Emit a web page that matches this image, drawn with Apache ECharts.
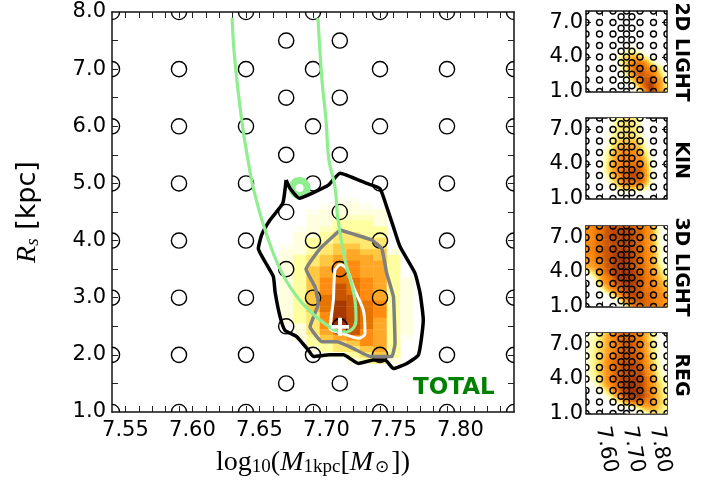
<!DOCTYPE html>
<html><head><meta charset="utf-8">
<style>html,body{margin:0;padding:0;background:#fff}#c{width:718px;height:483px}</style>
<script src="https://cdn.jsdelivr.net/npm/echarts@6/dist/echarts.min.js"></script>
</head><body><div id="c"></div>
<script>
// ---- circles (model grid)
const massCoarse = [7.54,7.59,7.64,7.69,7.74,7.79,7.84];
const rsCoarse = [1,2,3,4,5,6,7,8];
const massFine = [7.67,7.71];
const rsFine = [1.5,2.5,3.5,4.5,5.5,6.5,7.5];
// ---- main heat map, read cell by cell (level 0..10)
const mainMass = [7.67,7.68,7.69,7.70,7.71,7.72,7.73,7.74,7.75,7.76];
const mainRs = [4.7,4.6,4.5,4.4,4.3,4.2,4.1,4.0,3.9,3.8,3.7,3.6,3.5,3.4,3.3,3.2,3.1,3.0,2.9,2.8,2.7,2.6,2.5,2.4,2.3,2.2,2.1,2.0,1.9];
const mainHeat = [
[0,0,0,0,0.5,0.5,0,0,0,0],
[0,0,0,0.5,1,1,0.5,0,0,0],
[0,0,0.5,1,1,1,1,1,0,0],
[0,0,1,1,1.5,1.5,1.5,1,0,0],
[0,0,1,1,2,2,2,1,0,0],
[0,0.5,1,1.5,2,2,2,2,0,0],
[0,1,1,2,3,3,2,2,0,0],
[0,1,2,2,3,3,3,3,0,0],
[0.5,1,2,3,4,4,3,3,0,0],
[1,1,2,3,4,5,4,4,1,0],
[1,2,3,4,5,5,5,4,2,0],
[1,2,3,4,6,6,5,5,2,0],
[1,2,4,5,7,6,5,5,2,0],
[1,2,4,5,7,6,5,5,2,0],
[1,2,4,6,7,7,6,5,2,1],
[1,2,4,6,8,7,6,5,2,1],
[1,2,4,6,8,7,6,5,2,1],
[1,2,4,7,8,8,6,5,2,1],
[1,2,4,7,9,8,7,6,2,1],
[1,2,4,7,9,8,7,6,2,1],
[1,2,3,6,9,8,7,6,2,1],
[1,2,3,6,10,8,7,5,2,1],
[0,1,3,6,10,8,7,5,2,1],
[0,1,3,5,7,8,6,5,2,1],
[0,1,2,4,5,6,6,5,2,0.5],
[0,0,2,2,3,4,6,5,2,0],
[0,0,1,2,3,3,4,5,2,0],
[0,0,0,1,1,2,3,4,2,0],
[0,0,0,0,0,1,2,3,1,0]
];
// ---- contours and curves (mass, Rs)
const contourBlack = [[7.6699,5.06],[7.6674,4.65],[7.6579,4.36],[7.6517,4.10],[7.6492,3.86],[7.6542,3.63],[7.6604,3.37],[7.6617,3.10],[7.6654,2.67],[7.6691,2.43],[7.6778,2.32],[7.6866,2.08],[7.6903,1.97],[7.7027,2.00],[7.7127,2.00],[7.7239,1.85],[7.7351,1.91],[7.7438,1.91],[7.7501,1.76],[7.7600,1.85],[7.7687,2.00],[7.7723,2.61],[7.7699,3.08],[7.7661,3.43],[7.7550,3.89],[7.7500,4.24],[7.7450,4.59],[7.7400,4.91],[7.7301,5.00],[7.7102,5.18],[7.7015,4.97],[7.6903,4.84],[7.6798,4.74],[7.6729,4.91],[7.6699,5.06]];
const contourGray = [[7.7102,4.185],[7.7338,4.01],[7.7413,3.86],[7.7450,3.43],[7.7500,3.02],[7.7512,2.20],[7.7488,1.97],[7.7326,1.97],[7.7176,2.14],[7.7077,2.23],[7.6965,2.23],[7.6878,2.49],[7.6940,2.90],[7.6915,3.19],[7.6848,3.50],[7.6953,3.86],[7.7102,4.185]];
const contourWhite = [[7.7102,3.59],[7.7151,3.51],[7.7201,3.19],[7.7276,2.78],[7.7288,2.37],[7.7238,2.29],[7.7127,2.37],[7.7027,2.46],[7.7052,2.96],[7.7064,3.48],[7.7102,3.59]];
const curveGreen = [[7.6296,7.90],[7.6310,7.34],[7.6340,6.64],[7.6378,5.94],[7.6415,5.41],[7.6452,4.94],[7.6542,4.19],[7.6669,3.43],[7.6818,2.91],[7.7004,2.52],[7.7124,2.40],[7.7176,2.42],[7.7221,2.61],[7.7213,2.96],[7.7139,3.66],[7.7087,4.36],[7.7064,4.94],[7.7019,5.41],[7.6997,6.11],[7.6967,6.81],[7.6937,7.90]];
const markerGreen = [[7.680,4.92]];
const markerBest = [[7.7102,2.49]];
// ---- side panels: node values read at these positions
const panelMass = [7.54,7.56,7.58,7.60,7.62,7.64,7.66,7.68,7.70,7.72,7.74,7.76,7.78,7.80,7.82,7.84];
const panelRs = [8,7.5,7,6.5,6,5.5,5,4.5,4,3.5,3,2.5,2,1.5,1];
const heat2D = [
[0,0,0,0,0,0,0,0,0,0,0,0,0,0,0,0],
[0,0,0,0,0,0,0,0,0,0,0,0,0,0,0,0],
[0,0,0,0,0,0,0,0,0,0,0,0,0,0,0,0],
[0,0,0,0,0,0,0,0,0,0,0,0,0,0,0,0],
[0,0,0,0,0,0,0,0,0,0,0,0,0,0,0,0],
[0,0,0,0,0,0,0,0,0,0,0,0,0,0,0,0],
[0,0,0,0,0,0,0,0,0.5,0.5,0,0,0,0,0,0],
[0,0,0,0,0,0,0,1,2,2,1,0,0,0,0,0],
[0,0,0,0,0,0,1.5,3,4,5,4,2,0.5,0,0,0],
[0,0,0,0,0,0,1,3,5,7,7,6,3,1,0,0],
[0,0,0,0,0,0,0.5,2,5,7.5,7.5,7,6,5,2,0],
[0,0,0,0,0,0,0,1,4,7,8,7.5,7,6,3,0.5],
[0,0,0,0,0,0,0,0,2,5,7,8,8,6.5,5,1],
[0,0,0,0,0,0,0,0,0,2,5,8,9,7,5,2],
[0,0,0,0,0,0,0,0,0,0,2,6,9,7,5,3]
];
const heatKin = [
[0,0,0,0,0,1.5,2,3,3,3,1.5,0,0,0,0,0],
[0,0,0,0,0,1.5,2.5,3,3,3,1.5,0,0,0,0,0],
[0,0,0,0,0,1.5,3,3,3,3,2,0,0,0,0,0],
[0,0,0,0,0.5,2,3,3,3.5,3,2,0.5,0,0,0,0],
[0,0,0,0,1,2.5,3.5,4,4,4,3,1,0,0,0,0],
[0,0,0,0,1,3,4.5,5,5,5,4,1.5,0,0,0,0],
[0,0,0,0.5,2,4,5.5,6,6,6,5,3,0.5,0,0,0],
[0,0,0,0.5,2.5,4.5,6,6.5,6.5,6.5,6,4,1,0,0,0],
[0,0,0,0.5,3,5,6,6.5,7,7,7,5,1.5,0,0,0],
[0,0,0,0.5,3,5,6.5,7,7.5,8,7.5,5.5,2,0,0,0],
[0,0,0,0,2,4,6,7,8,8.5,8,6,2,0,0,0],
[0,0,0,0,1,3,5,6.5,7.5,8,7.5,6,1.5,0,0,0],
[0,0,0,0,0,1,3,4.5,5,5,5,3,0.5,0,0,0],
[0,0,0,0,0,0,0,0,0,0,0,0,0,0,0,0],
[0,0,0,0,0,0,0,0,0,0,0,0,0,0,0,0]
];
const heat3D = [
[6,6,7,7,8,8,8,8,8,7.5,7,6.5,5.5,3,0.5,0],
[6,6,7,7,8,8.5,8.5,8.5,8.5,8,7.5,6.5,5.5,3,0.5,0],
[6,6,7,7.5,8,8.5,8.5,8.5,8.5,8,7.5,6.5,5.5,3,0.5,0],
[6,6.5,7,7.5,8,8.5,8.5,8.5,8.5,8,7.5,6.5,5.5,3.5,0.5,0],
[6,6.5,7,7.5,8,8.5,8.5,8.5,8.5,8,7.5,6.5,5.5,3.5,1,0],
[6,6,7,7.5,8,8.5,9,9,8.5,8,7.5,6.5,5.5,4,1,0],
[5.5,6,6.5,7,8,8.5,9,9,8.5,8,7.5,6.5,5.5,4,1,0.5],
[5,5.5,6,7,8,8.5,9,9,8.5,8,7.5,7,5.5,4.5,2,0.5],
[1,3,5,6.5,7.5,8.5,9,9,9,8.5,7.5,7,6,5,3,1],
[0,0.5,3,5.5,6.5,7.5,9,9,9,8.5,8,7,6.5,5.5,4,2],
[0,0,1.5,5,6,7,8,8.5,9,8.5,8,7,6.5,6,5,3.5],
[0,0,0,1.5,5,6.5,7,8,8.5,8.5,8,7,7,6.5,5.5,4.5],
[0,0,0,0,0.5,3,6,7,8,8.5,8,7.5,7,6.5,6,5],
[0,0,0,0,0,0,1,5,7,8,8,7.5,7,6.5,6,5.5],
[0,0,0,0,0,0,0,0.5,4,7,7,7.5,7,6.5,6,5.5]
];
const heatReg = [
[0.5,1,2,3,4.5,6,7,7.5,7.5,7,6.5,5,3,1.5,0,0],
[1,1.5,2.5,3.5,5,6,7,7.5,7.5,7,6.5,5,3,1.5,0,0],
[1,1.5,2.5,3.5,5,6,7,7.5,8,7.5,7,5.5,3.5,1.5,0.5,0],
[1,2,3,4,5,6.5,7,8,8,7.5,7,5.5,3.5,2,0.5,0],
[1,2,3,4,5.5,6.5,7.5,8,8,8,7.5,6,4,2,0.5,0],
[1,2,3,4,6,7,7.5,8,8,8,7.5,6,4.5,2.5,1,0],
[1,2,3,4.5,6,7,7.5,8,8.5,8.5,8,6.5,5,3,1,0.5],
[1,2,3,4.5,6,7,8,8,8.5,8.5,8.5,7,5.5,3.5,1.5,0.5],
[0.5,1.5,2.5,4,6,7,8,8.5,8.5,9,8.5,7.5,6,4,2,1],
[0,0.5,1.5,3.5,5.5,6.5,7.5,8.5,9,9,8.5,7.5,6,4.5,3,1],
[0,0,0.5,1.5,3.5,6,7,8.5,9,9.5,9,7.5,6.5,5,3,2],
[0,0,0,0,1.5,3.5,6,8,9,9.5,9,8,6.5,5,3.5,2],
[0,0,0,0,0,0.5,2,4,6,7,7,6.5,6,5,3.5,2.5],
[0,0,0,0,0,0,0,0,0.5,2,3,5,5,4.5,3,2],
[0,0,0,0,0,0,0,0,0,0,0.5,1,3,3,2.5,1.5]
];
const panelNames = ['2D LIGHT','KIN','3D LIGHT','REG'];
const panelHeats = [heat2D,heatKin,heat3D,heatReg];
// ---- ticks
const xLabelsMain = [7.55,7.60,7.65,7.70,7.75,7.80];
const xTicksMain = [7.55,7.56,7.57,7.58,7.59,7.60,7.61,7.62,7.63,7.64,7.65,7.66,7.67,7.68,7.69,7.70,7.71,7.72,7.73,7.74,7.75,7.76,7.77,7.78,7.79,7.80,7.81,7.82,7.83];
const yLabelsMain = [1,2,3,4,5,6,7,8];
const yTicksMain = [1.5,2,2.5,3,3.5,4,4.5,5,5.5,6,6.5,7,7.5];
const xTicksPanel = [7.60,7.70,7.80];
const yTicksPanel = [1,4,7];
const levelColors = ['#ffffff','#ffffe0','#ffffa0','#ffe870','#ffc840','#ffa828','#ff8c10','#e87400','#c85400','#a83800','#902800'];

const X0=7.54,X1=7.84,Y0=1,Y1=8;
const rgb = levelColors.map(c=>[1,3,5].map(i=>parseInt(c.substr(i,2),16)));
function levelColor(v){
  const t=Math.max(0,Math.min(10,v)),i=Math.min(9,Math.floor(t)),f=t-i;
  const a=rgb[i],b=rgb[i+1];
  return 'rgb('+a.map((q,k)=>Math.round(q+(b[k]-q)*f)).join(',')+')';
}
const circles=[];
massCoarse.forEach(m=>rsCoarse.forEach(r=>circles.push([m,r])));
massFine.forEach(m=>rsFine.forEach(r=>circles.push([m,r])));

const panelTops=[11,118,226,333];
const grids=[{left:112,top:12,width:402,height:400}];
panelTops.forEach(t=>grids.push({left:586,top:t,width:81,height:80.5}));
const axisLine={show:true,onZero:false,lineStyle:{color:'#111',width:1.5}};
const font='"DejaVu Sans"';
const xAxes=[],yAxes=[];
function addAxes(g,xTicks,xLabels,yTicks,yLabels,showX,tickLen,extraX,extraY){
  const lab=(vals,fmt,extra)=>Object.assign({customValues:vals,formatter:fmt,color:'#000',fontFamily:font,fontSize:21,showMinLabel:true,showMaxLabel:true},extra);
  xAxes.push(Object.assign({gridIndex:g,type:'value',position:'bottom',min:X0,max:X1,splitLine:{show:false},axisLine,
    axisTick:{show:true,inside:true,length:tickLen,customValues:xTicks,lineStyle:{color:'#222',width:1}},
    axisLabel:showX?lab(xLabels,v=>(+v).toFixed(2),extraX):{show:false}},showX&&g===0?{
      name:'{a|log}{s|10}{a|(}{i|M}{s|1kpc}{a|[}{i|M}{t|⊙}{a|])}',nameLocation:'middle',nameGap:36,
      nameTextStyle:{rich:{a:{fontFamily:'"Liberation Serif"',fontSize:28,color:'#000'},i:{fontFamily:'"Liberation Serif"',fontStyle:'italic',fontSize:28,color:'#000'},s:{fontFamily:'"Liberation Serif"',fontSize:19,color:'#000',padding:[10,0,0,0]},t:{fontFamily:'"DejaVu Sans"',fontSize:17,color:'#000',padding:[10,2,0,2]}}}
    }:{}));
  xAxes.push({gridIndex:g,type:'value',position:'top',min:X0,max:X1,splitLine:{show:false},axisLine,
    axisTick:{show:true,inside:true,length:tickLen,customValues:xTicks,lineStyle:{color:'#222',width:1}},axisLabel:{show:false}});
  yAxes.push(Object.assign({gridIndex:g,type:'value',position:'left',min:Y0,max:Y1,splitLine:{show:false},axisLine,
    axisTick:{show:true,inside:true,length:tickLen,customValues:yTicks,lineStyle:{color:'#222',width:1}},
    axisLabel:lab(yLabels,v=>(+v).toFixed(1),extraY)},g===0?{
      name:'{i|R}{s|s}{a| [kpc]}',nameLocation:'middle',nameGap:70,nameRotate:90,
      nameTextStyle:{rich:{i:{fontFamily:'"Liberation Serif"',fontStyle:'italic',fontSize:28,color:'#000'},s:{fontFamily:'"Liberation Serif"',fontStyle:'italic',fontSize:19,color:'#000',padding:[10,0,0,0]},a:{fontFamily:font,fontSize:27,color:'#000'}}}
    }:{}));
  yAxes.push({gridIndex:g,type:'value',position:'right',min:Y0,max:Y1,splitLine:{show:false},axisLine,
    axisTick:{show:true,inside:true,length:tickLen,customValues:yTicks,lineStyle:{color:'#222',width:1}},axisLabel:{show:false}});
}
addAxes(0,xTicksMain,xLabelsMain,yTicksMain,yLabelsMain,true,6,{margin:8},{margin:6});
for(let i=0;i<4;i++) addAxes(i+1,xTicksPanel,xTicksPanel,yTicksPanel,yTicksPanel,i===3,5,{rotate:-80,margin:13,padding:[16,0,0,0]},{margin:3});

const series=[];
const mainCells=[];
mainRs.forEach((r,j)=>mainMass.forEach((m,i)=>{if(mainHeat[j][i]>0)mainCells.push([m,r,mainHeat[j][i]]);}));
series.push({type:'custom',xAxisIndex:0,yAxisIndex:0,clip:true,z:1,silent:true,data:mainCells,encode:{x:0,y:1},
  renderItem(p,api){
    const a=api.coord([api.value(0)-0.005,api.value(1)+0.05]),b=api.coord([api.value(0)+0.005,api.value(1)-0.05]);
    return {type:'rect',shape:{x:a[0],y:a[1],width:b[0]-a[0]+0.4,height:b[1]-a[1]+0.4},style:{fill:levelColor(api.value(2))}};
  }});
panelHeats.forEach((tbl,k)=>{
  const cells=[];
  for(let j=0;j<panelRs.length-1;j++)for(let i=0;i<panelMass.length-1;i++)cells.push([panelMass[i],panelRs[j],tbl[j][i],i,j]);
  series.push({type:'custom',xAxisIndex:2*(k+1),yAxisIndex:2*(k+1),clip:true,z:1,silent:true,data:cells,encode:{x:0,y:1},
    renderItem(p,api){
      const i=api.value(3),j=api.value(4),n=3,kids=[];
      const a=api.coord([panelMass[i],panelRs[j]]),b=api.coord([panelMass[i+1],panelRs[j+1]]);
      const w=(b[0]-a[0])/n,h=(b[1]-a[1])/n;
      for(let u=0;u<n;u++)for(let v=0;v<n;v++){
        const fx=(u+0.5)/n,fy=(v+0.5)/n;
        const val=(tbl[j][i]*(1-fx)+tbl[j][i+1]*fx)*(1-fy)+(tbl[j+1][i]*(1-fx)+tbl[j+1][i+1]*fx)*fy;
        if(val<=0.02)continue;
        kids.push({type:'rect',shape:{x:a[0]+u*w,y:a[1]+v*h,width:w+0.4,height:h+0.4},style:{fill:levelColor(val)}});
      }
      return {type:'group',children:kids};
    }});
});
[0,1,2,3,4].forEach(g=>{
  const r=g===0?7.6:3;
  series.push({type:'custom',xAxisIndex:2*g,yAxisIndex:2*g,clip:true,z:3,silent:true,data:circles,encode:{x:0,y:1},
    renderItem(p,api){
      const c=api.coord([api.value(0),api.value(1)]);
      return {type:'circle',shape:{cx:c[0],cy:c[1],r:r},style:{fill:'none',stroke:'#000',lineWidth:1.4}};
    }});
});
series.push({type:'scatter',xAxisIndex:0,yAxisIndex:0,z:4,silent:true,data:markerGreen,symbol:'circle',symbolSize:15,
  itemStyle:{color:'rgba(0,0,0,0)',borderColor:'#90ee90',borderWidth:7,opacity:1}});
function lineS(d,color,z,smooth,w){return {type:'line',xAxisIndex:0,yAxisIndex:0,data:d,showSymbol:false,symbol:'none',smooth:smooth,z:z,clip:true,silent:true,lineStyle:{color:color,width:w,join:'round'}};}
series.push(lineS(contourBlack,'#000',5,0.15,3.5));
series.push(lineS(contourGray,'#808080',6,0.1,3.5));
series.push(lineS(contourWhite,'#ffffff',7,0.25,3));
series.push(lineS(curveGreen,'#90ee90',8,0.4,3.2));
series.push({type:'scatter',xAxisIndex:0,yAxisIndex:0,z:9,silent:true,data:markerBest,symbol:'path://M-1.1,-5H1.1V-1.1H5V1.1H1.1V5H-1.1V1.1H-5V-1.1H-1.1Z',symbolSize:18,itemStyle:{color:'#fff',opacity:1}});

const graphic=[{type:'text',left:413,top:377,z:20,style:{text:'TOTAL',fill:'#008000',font:'bold 23px "DejaVu Sans"'}}];
const sideCenters=[52,160,267,375];
panelNames.forEach((n,i)=>graphic.push({type:'text',x:681,y:sideCenters[i],rotation:-Math.PI/2,z:20,
  style:{text:n,fill:'#000',font:'bold 19px "DejaVu Sans"',align:'center',verticalAlign:'middle'}}));

const chart=echarts.init(document.getElementById('c'),null,{renderer:'canvas'});
chart.setOption({animation:false,backgroundColor:'#fff',grid:grids,xAxis:xAxes,yAxis:yAxes,series,graphic,tooltip:{show:false}});
</script></body></html>
